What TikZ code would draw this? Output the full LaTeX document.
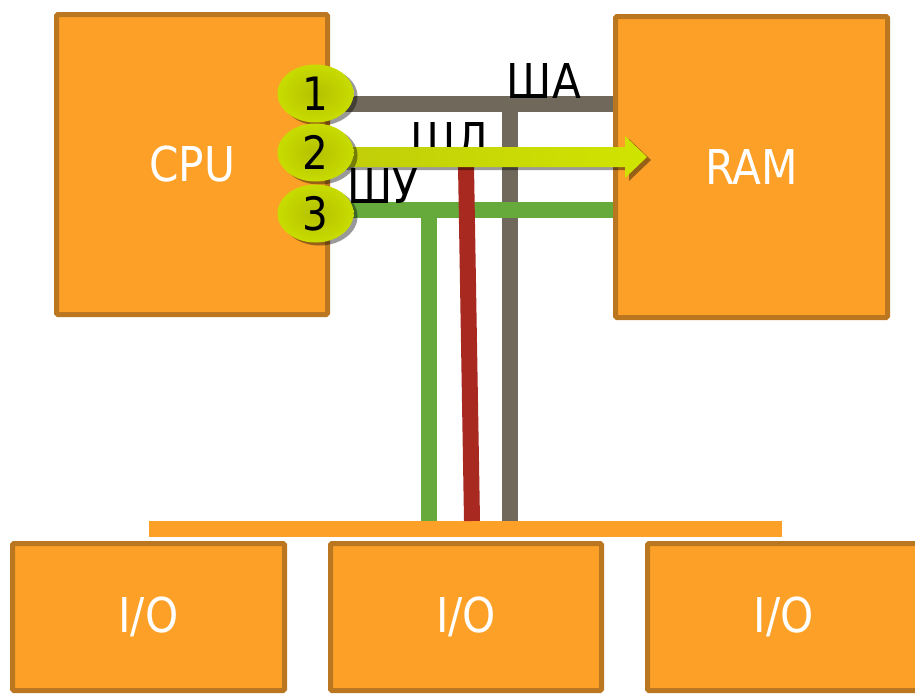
\documentclass[tikz,border=0pt]{standalone}
\usepackage{fontspec}
\setmainfont{DejaVu Sans}[FakeStretch=0.88]
\usetikzlibrary{shadows,shapes.geometric,calc}
\definecolor{boxfill}{RGB}{253,160,39}
\definecolor{boxline}{RGB}{186,119,32}
\definecolor{abus}{RGB}{112,104,90}
\definecolor{cbus}{RGB}{102,170,60}
\definecolor{dbus}{RGB}{168,41,31}
\definecolor{limeout}{RGB}{200,220,0}
\definecolor{limein}{RGB}{180,192,0}
\begin{document}
\begin{tikzpicture}[x=1pt,y=-1pt,
  unitbox/.style={draw=boxline, line width=5pt, fill=boxfill, rounded corners=1.5pt,
    text=white, font=\fontsize{48}{56}\selectfont, inner sep=0pt},
  busline/.style={line width=16pt},
  buslabel/.style={font=\fontsize{48}{56}\selectfont, inner sep=0pt, anchor=base},
  numoval/.style={ellipse, minimum width=76pt, minimum height=58pt, inner sep=0pt,
    inner color=limein, outer color=limeout, font=\fontsize{46}{52}\selectfont,
    drop shadow={shadow xshift=4pt, shadow yshift=-3pt, opacity=0.4, fill=black}},
]
\useasboundingbox (0,0) rectangle (915,694);
% units
\node[unitbox, minimum width=271pt, minimum height=300pt] (cpu) at (192,164.5) {CPU};
\node[unitbox, minimum width=272pt, minimum height=301pt] (ram) at (751.5,167) {RAM};
\node[unitbox, minimum width=272pt, minimum height=147pt] (io1) at (148.5,617) {I/O};
\node[unitbox, minimum width=271pt, minimum height=147pt] (io2) at (466,617) {I/O};
\node[unitbox, minimum width=272pt, minimum height=147pt] (io3) at (783.5,617) {I/O};
% system bar
\node[fill=boxfill, minimum width=633pt, minimum height=16pt, inner sep=0pt] (bar) at (465.5,529) {};
% bus coordinates
\coordinate (aL) at (330,104);
\coordinate (aJ) at (510,104);
\coordinate (cL) at (330,210);
\coordinate (cJ) at (428.5,210);
\coordinate (dT) at (466,165);
\coordinate (dB) at (472,521);
% buses
\draw[busline, abus] (aL) -- (aL -| ram.west);
\draw[busline, abus] (aJ) -- (aJ |- bar.north);
\draw[busline, cbus] (cL) -- (cL -| ram.west);
\draw[busline, cbus] (cJ) -- (cJ |- bar.north);
\draw[line width=16pt, dbus] (dT) -- (dB);
% labels
\node[buslabel] (la) at (544,98) {ША};
\node[buslabel] (ld) at (450,157) {ШД};
\node[buslabel] (lc) at (382.5,203) {ШУ};
% data arrow
\coordinate (dtip) at (647,157);
\path[left color={rgb,255:red,192;green,205;blue,10}, middle color={rgb,255:red,183;green,194;blue,0},
      right color={rgb,255:red,208;green,228;blue,0},
      drop shadow={shadow xshift=4pt, shadow yshift=-3pt, opacity=0.4, fill=black}]
  (330,147) -- ($(dtip)+(-22,-10)$) -- ($(dtip)+(-22,-21)$) -- (dtip)
  -- ($(dtip)+(-22,21)$) -- ($(dtip)+(-22,10)$) -- (330,167) -- cycle;
% numbered ovals
\node[numoval] (n1) at (315.5,93.5) {1};
\node[numoval] (n2) at (315.5,152.5) {2};
\node[numoval] (n3) at (315.5,213.5) {3};
\end{tikzpicture}
\end{document}
